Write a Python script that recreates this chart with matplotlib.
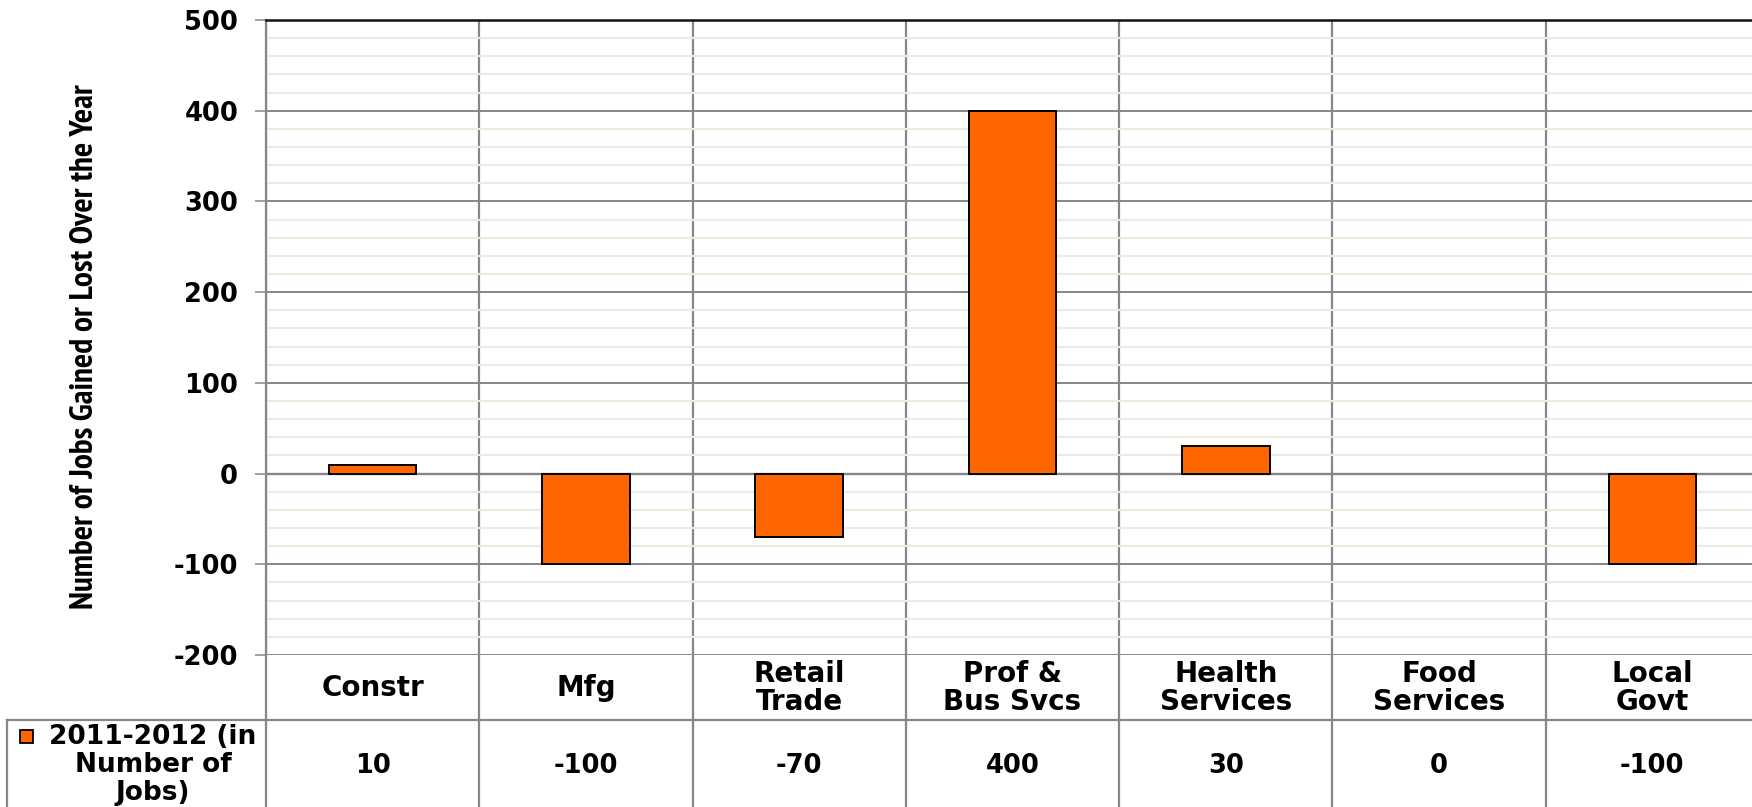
import matplotlib
matplotlib.use("Agg")
import matplotlib.pyplot as plt
from matplotlib import font_manager as fm
from matplotlib.ticker import MultipleLocator
from matplotlib.lines import Line2D
from matplotlib.patches import Rectangle

categories = ["Constr", "Mfg", "Retail\nTrade", "Prof &\nBus Svcs", "Health\nServices", "Food\nServices", "Local\nGovt"]
values = [10, -100, -70, 400, 30, 0, -100]
value_labels = ["10", "-100", "-70", "400", "30", "0", "-100"]
series_name = "2011-2012 (in\nNumber of\nJobs)"
y_label = "Number of Jobs Gained or Lost Over the Year"
y_min, y_max = -200, 500

plt.rcParams["axes.unicode_minus"] = False

bold_names = set()
for f in fm.fontManager.ttflist:
    w = f.weight
    try:
        w = int(w)
    except (TypeError, ValueError):
        w = 700 if str(w).lower() in ("bold", "heavy", "black", "extra bold", "ultrabold") else 400
    if w >= 700 and f.style == "normal":
        bold_names.add(f.name)

wide_font = "DejaVu Sans"
narrow_font = "Liberation Sans"
for cand in ["Liberation Sans Narrow", "Arial Narrow", "Archivo Narrow", "PT Sans Narrow",
             "Roboto Condensed", "Fira Sans Condensed", "Pragati Narrow", "Open Sans Condensed"]:
    if cand in bold_names:
        narrow_font = cand
        break

W, H = 1752, 807
fig = plt.figure(figsize=(W / 100, H / 100), dpi=100)

x_left, x_right = 266, 1759
y_top, y_bot = 20, 655
ax = fig.add_axes([x_left / W, 1 - y_bot / H, (x_right - x_left) / W, (y_bot - y_top) / H])

GRID = "#878787"
MINOR = "#EDEBE0"
ORANGE = "#FF6600"

n = len(categories)
xs = list(range(n))
ax.set_xlim(-0.5, n - 0.5)
ax.set_ylim(y_min, y_max)

ax.yaxis.set_major_locator(MultipleLocator(100))
ax.yaxis.set_minor_locator(MultipleLocator(20))
ax.grid(which="minor", axis="y", color=MINOR, linewidth=1.6, zorder=0)
ax.grid(which="major", axis="y", color=GRID, linewidth=1.4, zorder=0.5)
ax.tick_params(axis="y", which="minor", length=0)
ax.tick_params(axis="y", which="major", length=8, width=1.1, color=GRID, pad=12,
               labelsize=18.5)
for lab in ax.get_yticklabels():
    lab.set_fontfamily(wide_font)
    lab.set_fontweight("bold")
ax.set_xticks([])

for i in range(n + 1):
    ax.axvline(i - 0.5, color=GRID, linewidth=1.6, zorder=0.6)

ax.axhline(0, color="#404040", linewidth=1.6, zorder=1)

edge_w = [0 if v == 0 else 1.4 for v in values]
ax.bar(xs, values, width=0.41, color=ORANGE, edgecolor="black", linewidth=edge_w, zorder=2)

for s in ["right", "bottom"]:
    ax.spines[s].set_visible(False)
ax.spines["left"].set_color(GRID)
ax.spines["left"].set_linewidth(1.6)
ax.spines["top"].set_color("#111111")
ax.spines["top"].set_linewidth(1.8)

# y label: fit to the reference length (~525 px)
ylab = fig.text(85 / W, 1 - 347 / H, y_label, rotation=90, ha="center", va="center",
                fontfamily=narrow_font, fontweight="bold", fontsize=18)
renderer = fig.canvas.get_renderer()
ext = ylab.get_window_extent(renderer)
ylab.set_fontsize(18 * 525.0 / ext.height)

# data table
ax_h = y_bot - y_top
xt = ax.get_xaxis_transform()
tf = fig.transFigure

def ay(py):
    return (y_bot - py) / ax_h

def fx(px):
    return px / W

def fy(py):
    return 1 - py / H

row_split = 720
for i in range(n + 1):
    ax.add_line(Line2D([i - 0.5, i - 0.5], [0, ay(H + 5)], transform=xt, color=GRID,
                       linewidth=1.6, clip_on=False))
fig.add_artist(Line2D([fx(7), 1.0], [fy(row_split), fy(row_split)], transform=tf, color=GRID, linewidth=1.6))
fig.add_artist(Line2D([fx(7), fx(7)], [fy(row_split), 0], transform=tf, color=GRID, linewidth=1.6))

for i, (c, v) in enumerate(zip(categories, value_labels)):
    ax.text(i, ay(688), c, transform=xt, ha="center", va="center", fontsize=20,
            fontfamily=wide_font, fontweight="bold", linespacing=1.03)
    ax.text(i, ay(766), v, transform=xt, ha="center", va="center", fontsize=18.5,
            fontfamily=wide_font, fontweight="bold")

fig.add_artist(Rectangle((fx(20), fy(743)), 13 / W, 13 / H, transform=tf,
                         facecolor=ORANGE, edgecolor="black", linewidth=1.3))
fig.text(fx(153), fy(765), series_name, ha="center", va="center", fontsize=19,
         fontfamily=wide_font, fontweight="bold", multialignment="center", linespacing=1.1)

fig.savefig("out.png", dpi=100)
